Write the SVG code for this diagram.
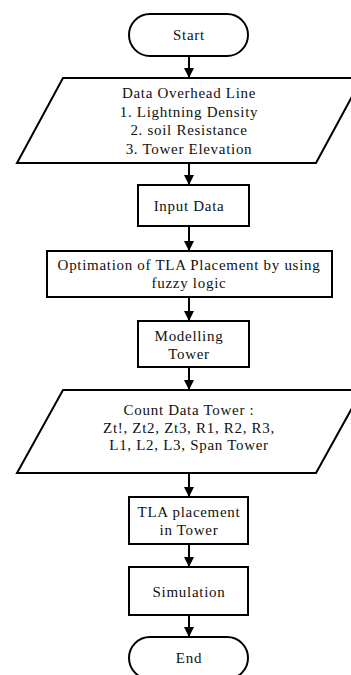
<svg xmlns="http://www.w3.org/2000/svg" width="351" height="675" viewBox="0 0 351 675">
  <style>
    .shape { fill: #ffffff; stroke: #000000; stroke-width: 2; }
    .label { font-family: "Liberation Serif", "Times New Roman", serif; font-size: 15px; letter-spacing: 0.7px; fill: #111111; text-anchor: middle; }
    .conn { stroke: #000000; stroke-width: 2; fill: none; marker-end: url(#arrow); }
  </style>
  <defs>
    <marker id="arrow" markerUnits="userSpaceOnUse" markerWidth="10" markerHeight="10" refX="10" refY="5" orient="auto">
      <path d="M0,0 L10,5 L0,10 Z" fill="#000000"/>
    </marker>
  </defs>
  <rect width="351" height="675" fill="#ffffff"/>

  <!-- vertical flow arrows between consecutive steps -->
  <g id="connectors">
    <line class="conn" x1="189" y1="56" x2="189" y2="78"/>
    <line class="conn" x1="189" y1="163" x2="189" y2="185"/>
    <line class="conn" x1="189" y1="226" x2="189" y2="251"/>
    <line class="conn" x1="189" y1="297" x2="189" y2="321"/>
    <line class="conn" x1="189" y1="367" x2="189" y2="390"/>
    <line class="conn" x1="189" y1="473" x2="189" y2="497"/>
    <line class="conn" x1="189" y1="544" x2="189" y2="567"/>
    <line class="conn" x1="189" y1="615" x2="189" y2="637"/>
  </g>

  <g id="start">
    <rect class="shape" x="129" y="14" width="119" height="42" rx="21" ry="21"/>
    <text class="label" x="189" y="40">Start</text>
  </g>

  <g id="data-overhead-line">
    <polygon class="shape" points="63,78 362,78 316,163 17,163"/>
    <text class="label" x="189" y="98">Data Overhead Line</text>
    <text class="label" x="189" y="116.5">1. Lightning Density</text>
    <text class="label" x="189" y="135">2. soil Resistance</text>
    <text class="label" x="189" y="153.5">3. Tower Elevation</text>
  </g>

  <g id="input-data">
    <rect class="shape" x="138" y="185" width="111" height="41"/>
    <text class="label" x="189" y="211">Input Data</text>
  </g>

  <g id="optimation">
    <rect class="shape" x="47" y="251" width="285" height="46"/>
    <text class="label" x="189" y="270">Optimation of TLA Placement by using</text>
    <text class="label" x="189" y="288">fuzzy logic</text>
  </g>

  <g id="modelling-tower">
    <rect class="shape" x="138" y="321" width="111" height="46"/>
    <text class="label" x="189" y="341">Modelling</text>
    <text class="label" x="189" y="358.5">Tower</text>
  </g>

  <g id="count-data-tower">
    <polygon class="shape" points="63,390 362,390 316,473 17,473"/>
    <text class="label" x="189" y="415">Count Data Tower :</text>
    <text class="label" x="189" y="432.5">Zt!, Zt2, Zt3, R1, R2, R3,</text>
    <text class="label" x="189" y="450">L1, L2, L3, Span Tower</text>
  </g>

  <g id="tla-placement">
    <rect class="shape" x="129" y="497" width="119" height="47"/>
    <text class="label" x="189" y="517">TLA placement</text>
    <text class="label" x="189" y="535">in Tower</text>
  </g>

  <g id="simulation">
    <rect class="shape" x="129" y="567" width="119" height="48"/>
    <text class="label" x="189" y="597">Simulation</text>
  </g>

  <g id="end">
    <rect class="shape" x="129" y="637" width="119" height="42" rx="21" ry="21"/>
    <text class="label" x="189" y="663">End</text>
  </g>
</svg>
